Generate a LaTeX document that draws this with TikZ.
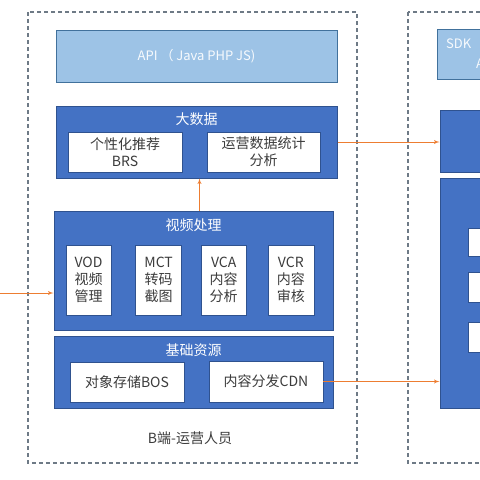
\documentclass[tikz,border=0pt]{standalone}
\usepackage{fontspec}
\setmainfont{Noto Sans CJK SC}
\usetikzlibrary{arrows,positioning}

\definecolor{darkblue}{HTML}{4472C4}
\definecolor{edgeblue}{HTML}{2F528F}
\definecolor{lightblue}{HTML}{9DC3E6}
\definecolor{lightedge}{HTML}{41719C}
\definecolor{flowcol}{HTML}{ED7D31}
\definecolor{dashgray}{HTML}{6E7A86}
\definecolor{txtgray}{HTML}{3C3C3C}

\begin{document}
\begin{tikzpicture}[x=1pt,y=-1pt,font=\fontsize{14}{17}\selectfont]
	\tikzstyle{zone}=[draw=dashgray,line width=1.1pt,dash pattern=on 4pt off 3pt]
	\tikzstyle{layer}=[draw=edgeblue,fill=darkblue,line width=1pt,inner sep=0pt]
	\tikzstyle{api}=[draw=lightedge,fill=lightblue,line width=1pt,inner sep=0pt,text=white!92!lightblue,font=\fontsize{13}{15}\selectfont]
	\tikzstyle{apitext}=[inner sep=0pt,text=white!92!lightblue,font=\fontsize{13}{15}\selectfont]
	\tikzstyle{item}=[draw=edgeblue,fill=white,line width=0.6pt,inner sep=0pt,text=txtgray,align=center]
	\tikzstyle{title}=[text=white,inner sep=0pt]
	\tikzstyle{flow}=[->,>=latex',draw=flowcol,line width=0.9pt]

	\clip (0,0) rectangle (480,480);
	\draw[zone] (28,12) rectangle (357,463);
	\draw[zone] (408,12) rectangle (560,463);

	\node[api,minimum width=281,minimum height=52] (api) at (196.5,56) {API （ Java PHP JS)};

	\node[layer,minimum width=281,minimum height=72] (bigdata) at (196.5,142) {};
	\node[title] (bigdatat) at (196.5,119) {大数据};
	\node[item,minimum width=114,minimum height=40] (brs) at (125,152) {个性化推荐\\BRS};
	\node[item,minimum width=113,minimum height=40] (stat) at (263.5,152) {运营数据统计\\分析};

	\node[layer,minimum width=279,minimum height=119] (video) at (193.5,270.5) {};
	\node[title] (videot) at (193.5,225) {视频处理};
	\node[item,minimum width=45,minimum height=70] (vod) at (88.5,280) {VOD\\视频\\管理};
	\node[item,minimum width=46,minimum height=70] (mct) [right=24pt of vod] {MCT\\转码\\截图};
	\node[item,minimum width=45,minimum height=70] (vca) [right=19pt of mct] {VCA\\内容\\分析};
	\node[item,minimum width=46,minimum height=70] (vcr) [right=21pt of vca] {VCR\\内容\\审核};

	\node[layer,minimum width=279,minimum height=72] (base) at (193.5,372) {};
	\node[title] (baset) at (193.5,350) {基础资源};
	\node[item,minimum width=114,minimum height=40] (bos) at (127,382) {对象存储BOS};
	\node[item,minimum width=114,minimum height=41] (cdn) at (266,381.5) {内容分发CDN};

	\node[text=txtgray] (who) at (190,438) {B端-运营人员};

	\node[api,minimum width=123,minimum height=50] (sdk) at (498.5,54) {};
	\node[apitext,anchor=west] (sdkt) at (446,44) {SDK};
	\node[apitext,anchor=west] (sdka) at (476,64) {A};
	\node[layer,minimum width=120,minimum height=62] (r1) at (500,141) {};
	\node[layer,minimum width=120,minimum height=230] (r2) at (500,293) {};
	\node[item,minimum width=72,minimum height=28] (r2a) at (504,242) {};
	\node[item,minimum width=72,minimum height=30] (r2b) at (504,287) {};
	\node[item,minimum width=72,minimum height=30] (r2c) at (504,337) {};

	\coordinate (src) at (0,293);
	\draw[flow] (src) -- (src -| video.west);
	\draw[flow] ([xshift=6pt]video.north) -- ([xshift=6pt]video.north |- bigdata.south);
	\draw[flow] (bigdata.east) -- (bigdata.east -| r1.west);
	\draw[flow] (cdn.east) -- (cdn.east -| r2.west);
\end{tikzpicture}
\end{document}
